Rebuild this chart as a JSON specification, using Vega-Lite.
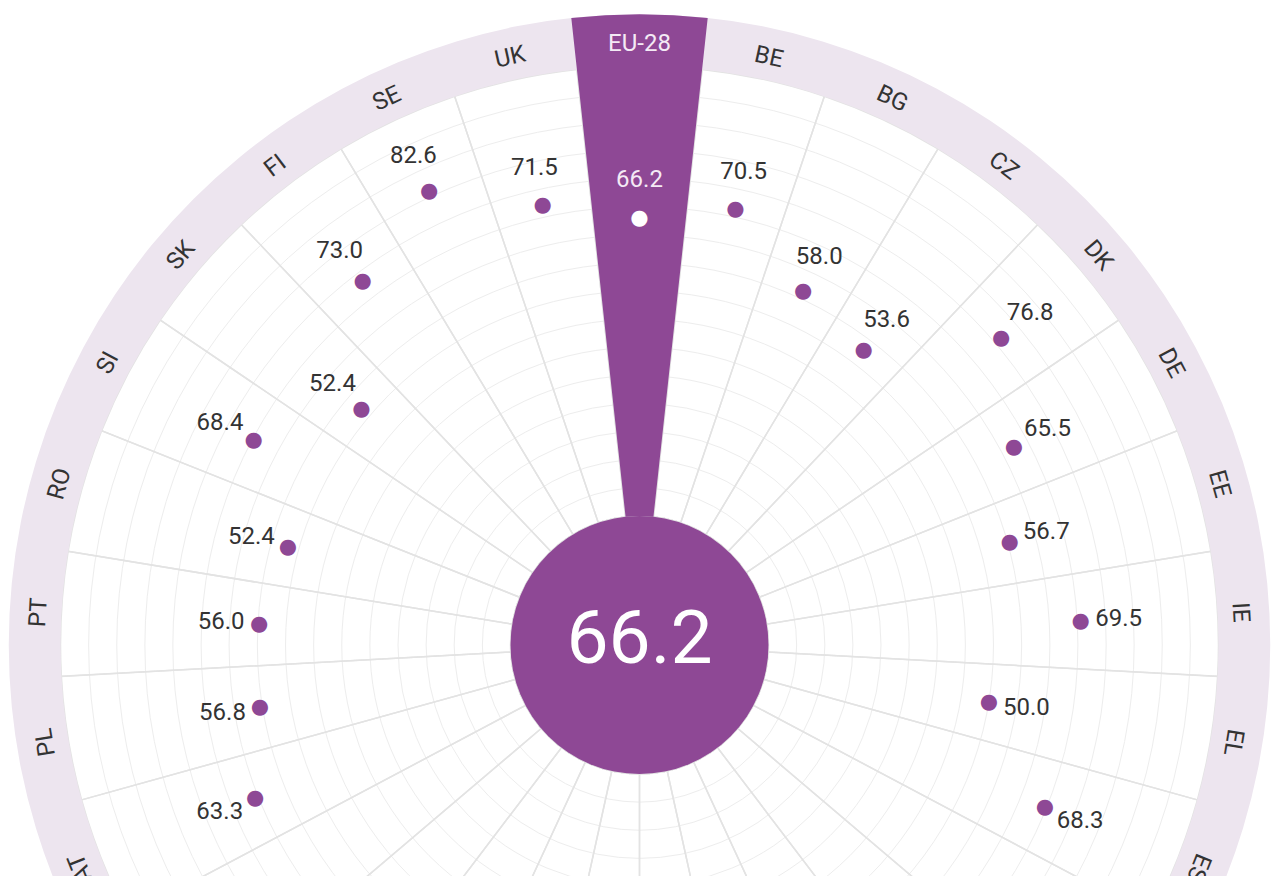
{
  "$schema": "https://vega.github.io/schema/vega-lite/v6.json",
  "width": 1279,
  "height": 1290,
  "autosize": "none",
  "padding": {"left": 0, "top": 0, "right": 0, "bottom": -414},
  "background": "white",
  "config": {"view": {"stroke": null}, "text": {"font": "Roboto"}},
  "datasets": {
    "scores": [
      {"i": 0, "country": "EU-28", "value": 66.2},
      {"i": 1, "country": "BE", "value": 70.5},
      {"i": 2, "country": "BG", "value": 58.0},
      {"i": 3, "country": "CZ", "value": 53.6},
      {"i": 4, "country": "DK", "value": 76.8},
      {"i": 5, "country": "DE", "value": 65.5},
      {"i": 6, "country": "EE", "value": 56.7},
      {"i": 7, "country": "IE", "value": 69.5},
      {"i": 8, "country": "EL", "value": 50.0},
      {"i": 9, "country": "ES", "value": 68.3},
      {"i": 10, "country": "FR", "value": 72.6},
      {"i": 11, "country": "HR", "value": 53.1},
      {"i": 12, "country": "IT", "value": 62.1},
      {"i": 13, "country": "CY", "value": 55.1},
      {"i": 14, "country": "LV", "value": 57.9},
      {"i": 15, "country": "LT", "value": 56.8},
      {"i": 16, "country": "LU", "value": 69.0},
      {"i": 17, "country": "HU", "value": 50.8},
      {"i": 18, "country": "MT", "value": 60.1},
      {"i": 19, "country": "NL", "value": 72.9},
      {"i": 20, "country": "AT", "value": 63.3},
      {"i": 21, "country": "PL", "value": 56.8},
      {"i": 22, "country": "PT", "value": 56.0},
      {"i": 23, "country": "RO", "value": 52.4},
      {"i": 24, "country": "SI", "value": 68.4},
      {"i": 25, "country": "SK", "value": 52.4},
      {"i": 26, "country": "FI", "value": 73.0},
      {"i": 27, "country": "SE", "value": 82.6},
      {"i": 28, "country": "UK", "value": 71.5}
    ],
    "grid": [
      {"g": 6.25}, {"g": 12.5}, {"g": 18.75}, {"g": 25}, {"g": 31.25}, {"g": 37.5},
      {"g": 43.75}, {"g": 50}, {"g": 56.25}, {"g": 62.5}, {"g": 68.75}, {"g": 75},
      {"g": 81.25}, {"g": 87.5}, {"g": 93.75}
    ]
  },
  "data": {"name": "scores"},
  "layer": [
    {
      "data": {"name": "grid"},
      "mark": {"type": "arc", "filled": false, "color": "#ededed", "strokeWidth": 1, "theta": 0, "theta2": 6.2832},
      "encoding": {
        "radius": {"field": "g", "type": "quantitative", "stack": null, "scale": {"type": "linear", "domain": [0, 100], "range": [129, 579], "zero": false}}
      }
    },
    {
      "mark": {"type": "arc", "filled": false, "color": "#e3e3e3", "strokeWidth": 1.5, "thetaOffset": -0.108331, "theta2Offset": 0.108331},
      "encoding": {
        "theta": {"field": "i", "type": "quantitative", "stack": null, "scale": {"type": "linear", "domain": [0, 29], "range": [0, 6.283185]}},
        "theta2": {"field": "i"},
        "radius": {"datum": 100, "type": "quantitative", "stack": null, "scale": {"type": "linear", "domain": [0, 100], "range": [129, 579], "zero": false}}
      }
    },
    {
      "transform": [{"filter": "datum.i == 0"}],
      "mark": {"type": "arc", "color": "#ede5ef", "theta": 0, "theta2": 6.2832},
      "encoding": {
        "radius": {"datum": 100, "type": "quantitative", "stack": null, "scale": {"type": "linear", "domain": [0, 100], "range": [129, 579], "zero": false}},
        "radius2": {"datum": 111.5}
      }
    },
    {
      "transform": [{"filter": "datum.i == 0"}],
      "mark": {"type": "arc", "color": "#8e4895", "thetaOffset": -0.108331, "theta2Offset": 0.108331},
      "encoding": {
        "theta": {"field": "i", "type": "quantitative", "stack": null, "scale": {"type": "linear", "domain": [0, 29], "range": [0, 6.283185]}},
        "theta2": {"field": "i"},
        "radius": {"datum": 111.5, "type": "quantitative", "stack": null, "scale": {"type": "linear", "domain": [0, 100], "range": [129, 579], "zero": false}}
      }
    },
    {
      "transform": [{"filter": "datum.i == 0"}],
      "mark": {"type": "arc", "color": "#8e4895", "theta": 0, "theta2": 6.2832},
      "encoding": {
        "radius": {"datum": 0, "type": "quantitative", "stack": null, "scale": {"type": "linear", "domain": [0, 100], "range": [129, 579], "zero": false}},
        "radius2": {"value": 0}
      }
    },
    {
      "mark": {"type": "text", "text": "●", "font": "DejaVu Sans", "fontSize": 21, "align": "center", "baseline": "middle"},
      "encoding": {
        "theta": {"field": "i", "type": "quantitative", "stack": null, "scale": {"type": "linear", "domain": [0, 29], "range": [0, 6.283185]}},
        "radius": {"field": "value", "type": "quantitative", "stack": null, "scale": {"type": "linear", "domain": [0, 100], "range": [129, 579], "zero": false}},
        "color": {"condition": {"test": "datum.i == 0", "value": "#ffffff"}, "value": "#8e4895"}
      }
    },
    {
      "mark": {"type": "text", "fontSize": 24, "align": "center", "baseline": "middle", "radiusOffset": 38},
      "encoding": {
        "theta": {"field": "i", "type": "quantitative", "stack": null, "scale": {"type": "linear", "domain": [0, 29], "range": [0, 6.283185]}},
        "radius": {"field": "value", "type": "quantitative", "stack": null, "scale": {"type": "linear", "domain": [0, 100], "range": [129, 579], "zero": false}},
        "text": {"field": "value", "type": "quantitative", "format": ".1f"},
        "color": {"condition": {"test": "datum.i == 0", "value": "#f4eaf5"}, "value": "#333333"}
      }
    },
    {
      "mark": {"type": "text", "fontSize": 24, "align": "center", "baseline": "middle"},
      "encoding": {
        "theta": {"field": "i", "type": "quantitative", "stack": null, "scale": {"type": "linear", "domain": [0, 29], "range": [0, 6.283185]}},
        "radius": {"datum": 105, "type": "quantitative", "stack": null, "scale": {"type": "linear", "domain": [0, 100], "range": [129, 579], "zero": false}},
        "text": {"field": "country", "type": "nominal"},
        "angle": {"field": "i", "type": "quantitative", "scale": {"type": "linear", "domain": [0, 29], "range": [0, 360]}},
        "color": {"condition": {"test": "datum.i == 0", "value": "#f4eaf5"}, "value": "#333333"}
      }
    },
    {
      "transform": [{"filter": "datum.i == 0"}],
      "mark": {"type": "text", "fontSize": 75, "color": "#ffffff", "align": "center", "baseline": "alphabetic", "dy": 18},
      "encoding": {
        "text": {"field": "value", "type": "quantitative", "format": ".1f"}
      }
    }
  ]
}
